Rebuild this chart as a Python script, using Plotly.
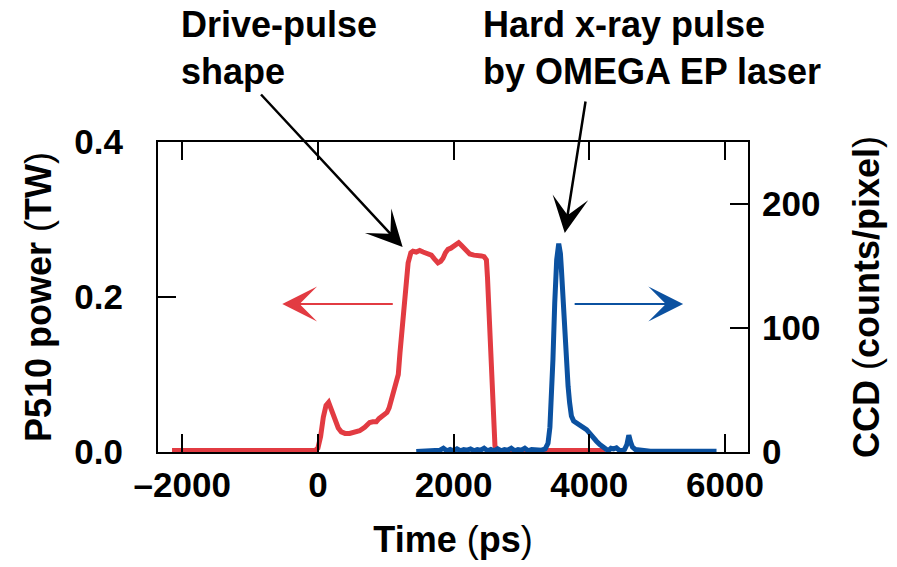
import plotly.graph_objects as go

# ---- data ----
red_time = [-2150, -500, -40, 0, 40, 80, 120, 158, 200, 246, 300, 345, 400, 468, 540, 615, 690,
            763, 810, 861, 900, 935, 980, 1018, 1050, 1083, 1120, 1156, 1185, 1210, 1245, 1280,
            1330, 1370, 1401, 1450, 1500, 1550, 1598, 1672, 1720, 1770, 1810, 1844, 1880, 1918,
            1960, 1992, 2040, 2075, 2110, 2149, 2190, 2238, 2300, 2360, 2410, 2450, 2484, 2500,
            2530, 2560, 2590, 2610, 2640, 3000, 4236]
red_power = [0.002, 0.002, 0.002, 0.005, 0.02, 0.045, 0.06, 0.064, 0.055, 0.041, 0.031, 0.026,
             0.024, 0.024, 0.025, 0.0275, 0.032, 0.038, 0.039, 0.039, 0.043, 0.046, 0.049, 0.051,
             0.057, 0.067, 0.076, 0.086, 0.1, 0.128, 0.16, 0.19, 0.244, 0.257, 0.259, 0.258, 0.26,
             0.258, 0.257, 0.254, 0.249, 0.244, 0.246, 0.25, 0.257, 0.2615, 0.263, 0.265, 0.267,
             0.27, 0.267, 0.263, 0.258, 0.2555, 0.254, 0.254, 0.253, 0.252, 0.248, 0.225, 0.17,
             0.11, 0.045, 0.008, 0.002, 0.002, 0.002]

blue_time = [1450, 1600, 1750, 1800, 1850, 1900, 1950, 2000, 2050, 2100, 2150, 2200, 2250, 2300,
             2350, 2400, 2450, 2500, 2550, 2600, 2650, 2700, 2750, 2800, 2850, 2900, 2950, 3000,
             3050, 3100, 3150, 3200, 3250, 3300, 3350, 3392, 3420, 3442, 3465, 3491, 3520, 3550,
             3575, 3590, 3615, 3639, 3665, 3688, 3710, 3737, 3770, 3811, 3866, 3909, 3960, 4008,
             4060, 4106, 4156, 4200, 4240, 4280, 4320, 4360, 4401, 4440, 4480, 4520, 4555, 4583,
             4610, 4637, 4680, 4745, 4800, 4900, 5876]
blue_counts = [0.5, 0.5, 0.6, 1.5, 3, 1, 2, 1, 2.5, 1, 2, 1.5, 2.5, 1, 2, 1.5, 3, 1, 2, 1, 2.5, 1,
               2, 1.5, 3, 1, 2, 1.5, 3, 1, 2, 1.5, 2, 1.5, 2.5, 7, 20, 40, 75, 120, 155, 168, 160,
               147, 120, 93, 70, 53, 40, 29, 25, 23.5, 22, 20.8, 18, 15, 11, 8.7, 6, 4.5, 2, 1, 3,
               2.5, 3.4, 1.5, 1, 2, 6, 13.5, 8, 4, 2, 1.5, 0.8, 0.6, 0.6]

x_tick_vals = [-2000, 0, 2000, 4000, 6000]
x_tick_text = ["\u20132000", "0", "2000", "4000", "6000"]
y_tick_vals = [0.0, 0.2, 0.4]
y_tick_text = ["0.0", "0.2", "0.4"]
y2_tick_vals = [0, 100, 200]
y2_tick_text = ["0", "100", "200"]

RED = "#E23B42"
BLUE = "#0B51A0"
FONT = "Liberation Sans"

fig = go.Figure()
fig.add_trace(go.Scatter(x=red_time, y=red_power, mode="lines",
                         line=dict(color=RED, width=5), yaxis="y", name="Drive pulse"))
fig.add_trace(go.Scatter(x=blue_time, y=blue_counts, mode="lines",
                         line=dict(color=BLUE, width=5), yaxis="y2", name="CCD"))

tickfont = dict(family=FONT, size=35, color="black", weight="bold")
axcommon = dict(showgrid=False, zeroline=False, showline=True, linewidth=2, linecolor="black",
                ticks="inside", ticklen=18, tickwidth=2, tickcolor="black", tickfont=tickfont)

fig.update_layout(
    width=897, height=567,
    margin=dict(l=158, r=149, t=142, b=115),
    paper_bgcolor="white", plot_bgcolor="white",
    showlegend=False,
    font=dict(family=FONT, color="black"),
    xaxis=dict(range=[-2357, 6340], tickvals=x_tick_vals, ticktext=x_tick_text,
               mirror="ticks", ticklabelstandoff=1,
               title=dict(text="<b>Time</b> (<b>ps</b>)", font=dict(size=36, family=FONT), standoff=24),
               **axcommon),
    yaxis=dict(range=[0, 0.4], tickvals=y_tick_vals, ticktext=y_tick_text, mirror=True,
               ticklabelstandoff=26,
               title=dict(text="<b>P510 power</b> (<b>TW</b>)", font=dict(size=36, family=FONT), standoff=12),
               **axcommon),
    yaxis2=dict(range=[0, 250], tickvals=y2_tick_vals, ticktext=y2_tick_text, overlaying="y",
                side="right", ticklabelstandoff=5,
                title=dict(text="<b>CCD</b> (<b>counts/pixel</b>)", font=dict(size=36, family=FONT), standoff=34),
                **axcommon),
)

annfont = dict(family=FONT, size=36, color="black")
fig.add_annotation(text="<b>Drive-pulse</b><br><b>shape</b>", xref="paper", yref="paper",
                   x=0.035, y=1.452, xanchor="left", yanchor="top", align="left",
                   showarrow=False, font=annfont)
fig.add_annotation(text="<b>Hard x-ray pulse</b><br><b>by OMEGA EP laser</b>", xref="paper", yref="paper",
                   x=0.547, y=1.452, xanchor="left", yanchor="top", align="left",
                   showarrow=False, font=annfont)
# pointer arrows
fig.add_annotation(text="", x=1249, y=0.2645, xref="x", yref="y", ax=-143, ay=-154,
                   showarrow=True, arrowhead=3, arrowsize=2.4, arrowwidth=2.5, arrowcolor="black")
fig.add_annotation(text="", x=3639, y=0.2826, xref="x", yref="y", ax=21, ay=-133,
                   showarrow=True, arrowhead=3, arrowsize=2.4, arrowwidth=2.5, arrowcolor="black")
fig.add_annotation(text="", x=-525, y=0.191, xref="x", yref="y", ax=112, ay=0,
                   showarrow=True, arrowhead=3, arrowsize=2.9, arrowwidth=2, arrowcolor=RED)
fig.add_annotation(text="", x=5384, y=0.191, xref="x", yref="y", ax=-110, ay=0,
                   showarrow=True, arrowhead=3, arrowsize=2.9, arrowwidth=2, arrowcolor=BLUE)

fig.write_html("out.html")
